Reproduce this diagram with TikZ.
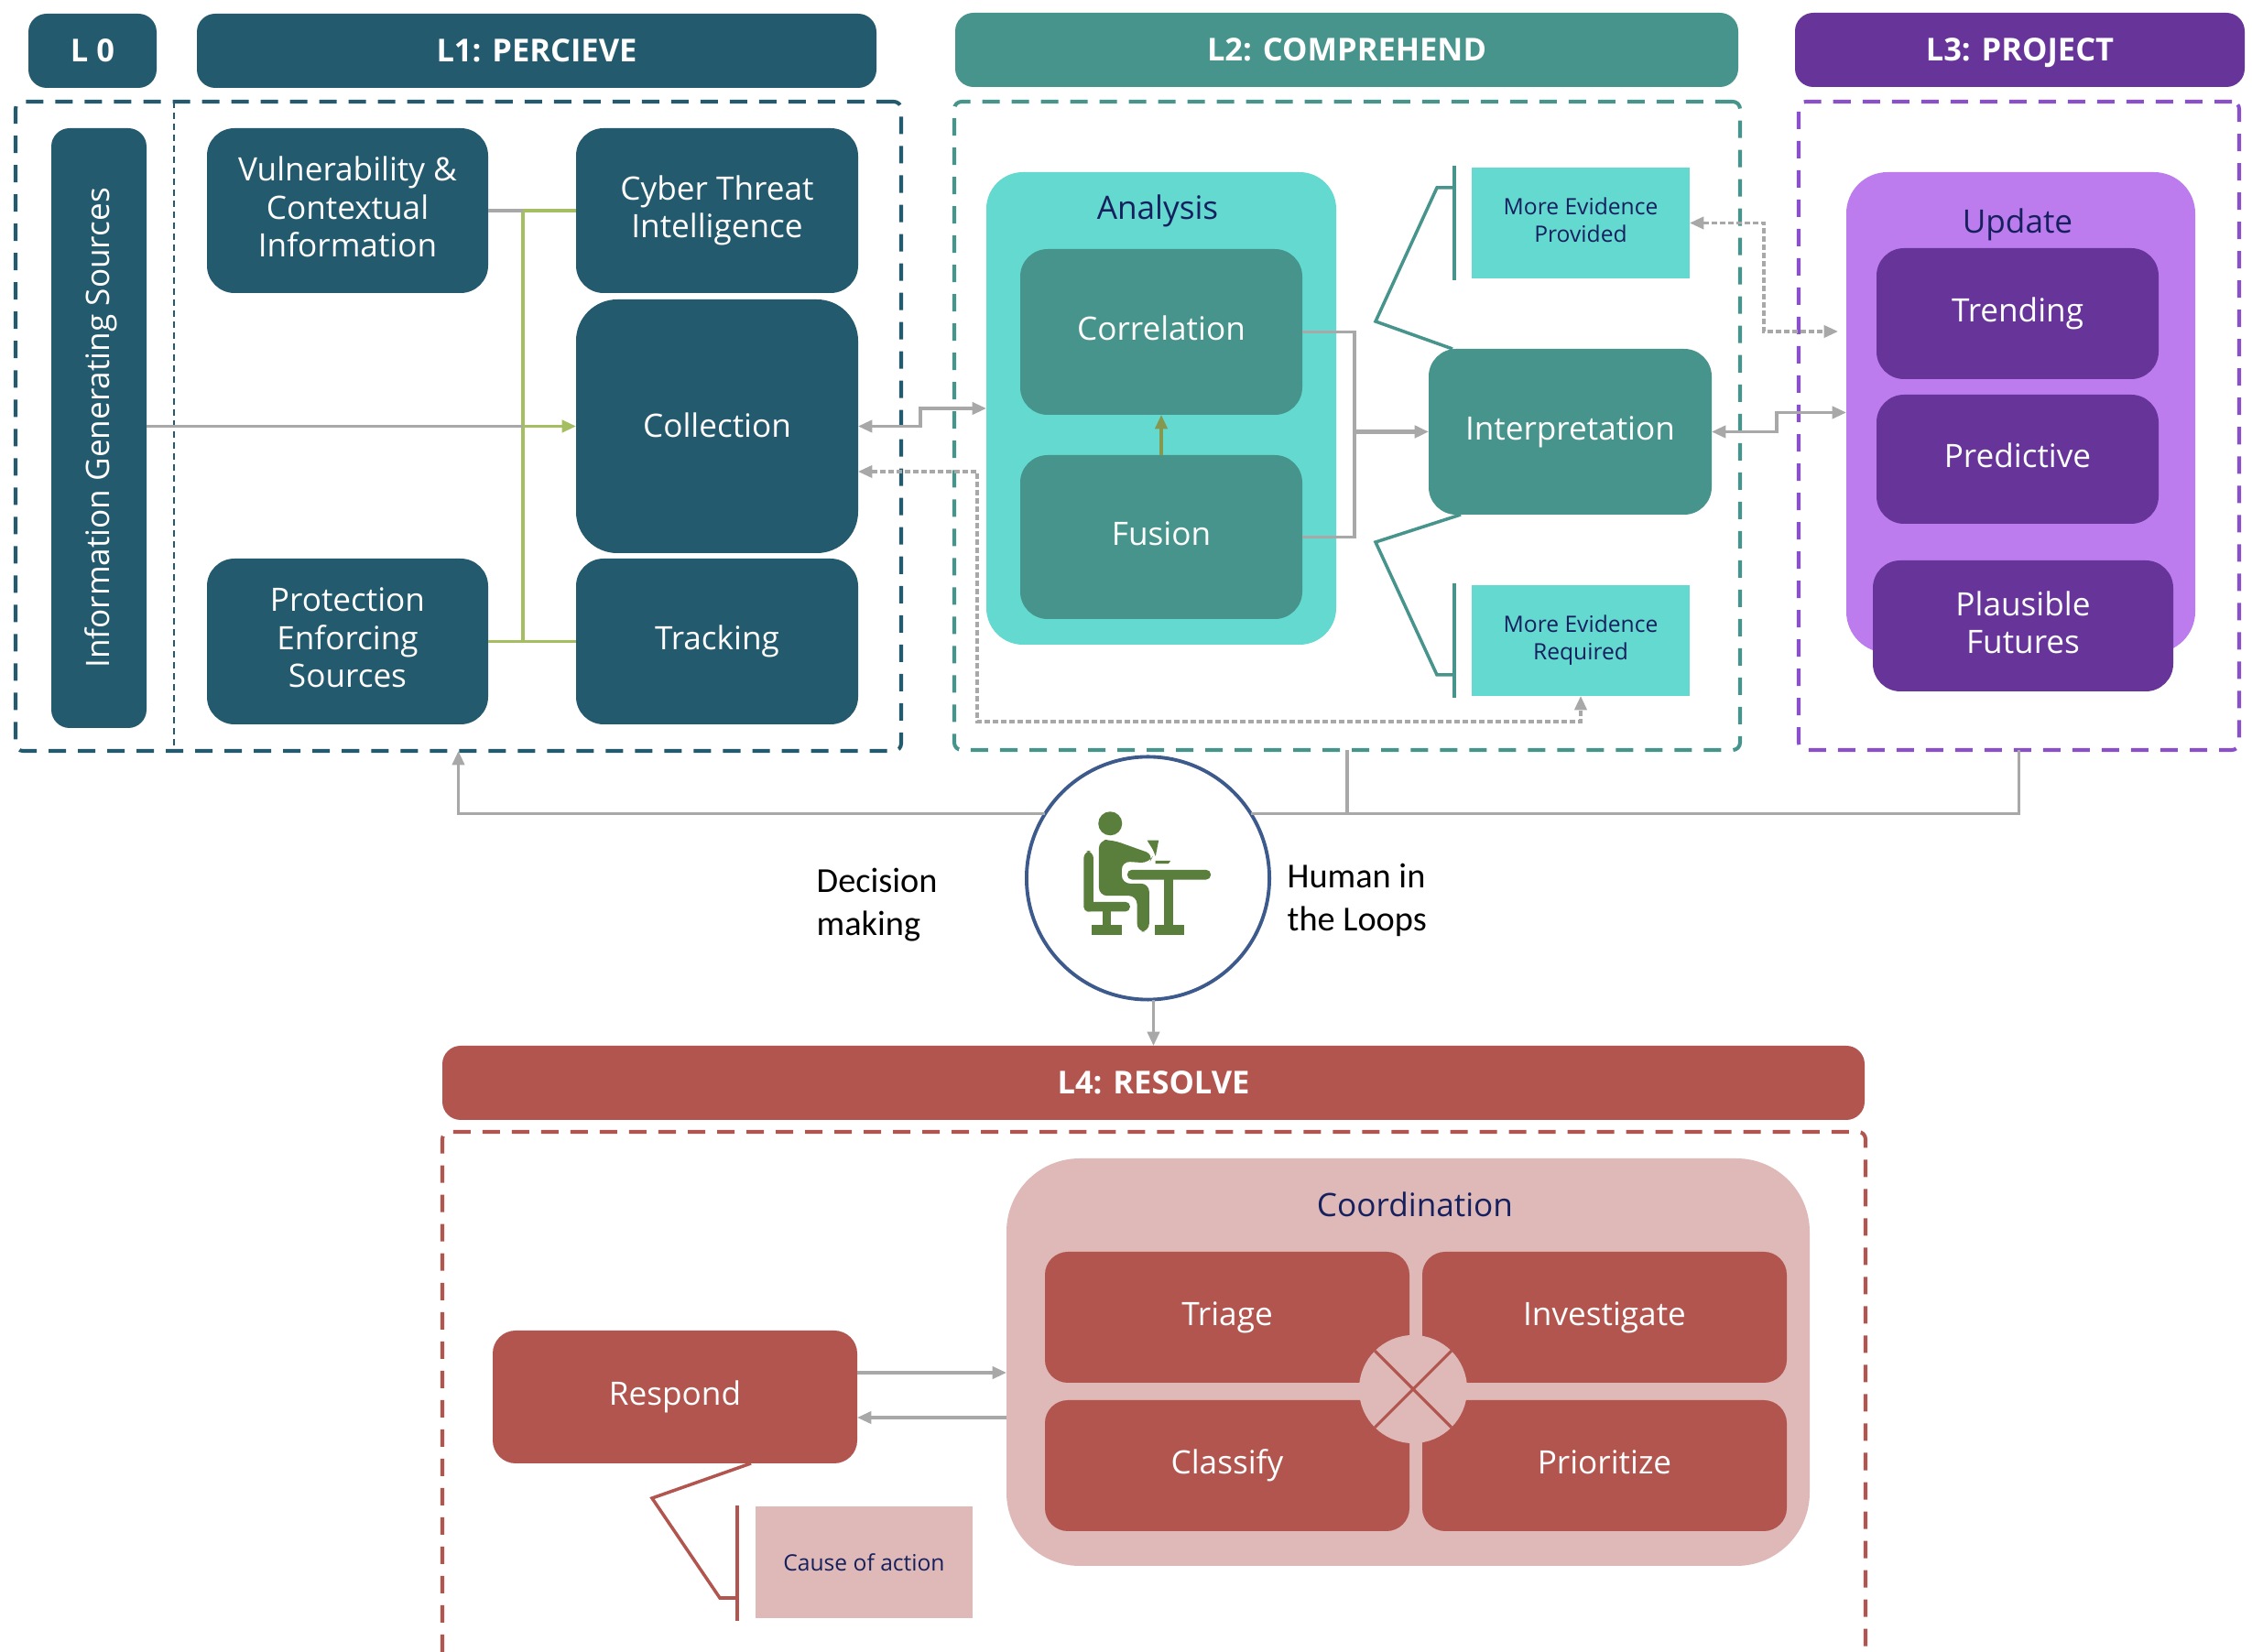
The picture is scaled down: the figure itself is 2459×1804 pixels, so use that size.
\documentclass[tikz,border=0pt]{standalone}
\usepackage{fontspec}
\setmainfont{Open Sans}
\newfontfamily\plainfont{Carlito}
\usetikzlibrary{arrows.meta}

\definecolor{percteal}{HTML}{245A6E}
\definecolor{compteal}{HTML}{46948B}
\definecolor{lightteal}{HTML}{63D9CF}
\definecolor{projpurple}{HTML}{67349A}
\definecolor{lightpurple}{HTML}{BC7CEE}
\definecolor{framepurple}{HTML}{8A4FCB}
\definecolor{resred}{HTML}{B2554F}
\definecolor{lightred}{HTML}{DEB9B7}
\definecolor{navytext}{HTML}{16205E}
\definecolor{linegrey}{HTML}{A8A8A8}
\definecolor{busgreen}{HTML}{A6BE62}
\definecolor{ringblue}{HTML}{3D5A8C}
\definecolor{deskgreen}{HTML}{5A7F3C}

\tikzset{
	boxsize/.style 2 args={minimum width=#1*0.01cm, minimum height=#2*0.01cm},
	basebox/.style={inner sep=0, outer sep=0, align=center, text=white, text depth=0.085cm, font=\fontsize{10pt}{11.7pt}\selectfont},
	perc/.style={basebox, fill=percteal, rounded corners=0.3cm},
	comp/.style={basebox, fill=compteal, rounded corners=0.3cm},
	proj/.style={basebox, fill=projpurple, rounded corners=0.3cm},
	res/.style={basebox, fill=resred, rounded corners=0.25cm},
	header/.style={basebox, text depth=0pt, rounded corners=0.2cm, font=\bfseries\fontsize{9.8pt}{12pt}\selectfont},
	frame/.style={inner sep=0, outer sep=0, rounded corners=0.08cm, line width=1.15pt, dash pattern=on 0.19cm off 0.13cm},
	note/.style={basebox, text=navytext, text depth=0.06cm, font=\fontsize{7pt}{8.6pt}\selectfont},
	grouptitle/.style={inner sep=0, text=navytext, font=\fontsize{10pt}{12pt}\selectfont},
	greylink/.style={draw=linegrey, line width=0.95pt},
	dashlink/.style={draw=linegrey, line width=0.9pt, dash pattern=on 0.06cm off 0.03cm},
	buslink/.style={draw=busgreen, line width=1pt},
	tips/.style={arrows={#1}, >={Triangle[length=4.4pt, width=3.8pt]}},
	callline/.style={line width=1pt, line join=miter},
	sidetext/.style={inner sep=0, align=left, anchor=north west, font=\plainfont\fontsize{10.9pt}{13.4pt}\selectfont},
}

\begin{document}
\begin{tikzpicture}[x=0.01cm, y=-0.01cm]
	\useasboundingbox (0,0) rectangle (2459,1804);
	
	%%%%% HEADERS %%%%%
	\node[header, fill=percteal, boxsize={140}{81}] (lzero) at (101,55.5) {L 0};
	\node[header, fill=percteal, boxsize={742}{81}] (lone) at (586,55.5) {L1: PERCIEVE};
	\node[header, fill=compteal, boxsize={855}{81}] (ltwo) at (1470.5,54.5) {L2: COMPREHEND};
	\node[header, fill=projpurple, boxsize={491}{81}] (lthree) at (2205.5,54.5) {L3: PROJECT};
	\node[header, fill=resred, boxsize={1553}{81}] (lfour) at (1259.5,1182.5) {L4: RESOLVE};
	
	%%%%% FRAMES %%%%%
	\node[frame, draw=percteal, boxsize={967}{709}] (percframe) at (500.5,465.5) {};
	\node[frame, draw=compteal, boxsize={858}{708}] (compframe) at (1471,465) {};
	\node[frame, draw=framepurple, boxsize={481}{708}] (projframe) at (2204.5,465) {};
	\draw[resred, line width=1.15pt, rounded corners=0.08cm, dash pattern=on 0.19cm off 0.13cm] (483,1804) -- (483,1236) -- (2037,1236) -- (2037,1804);
	\coordinate (divtop) at (190,111);
	\coordinate (divbot) at (190,820);
	\draw[percteal, line width=0.8pt, dash pattern=on 0.07cm off 0.05cm] (divtop) -- (divbot);
	
	%%%%% L0 AND L1 %%%%%
	\node[perc, rotate=90, text depth=0.04cm, rounded corners=0.2cm, boxsize={655}{104}] (info) at (108,467.5) {Information Generating Sources};
	\node[perc, boxsize={307}{180}] (vuln) at (379.5,230) {Vulnerability \&\\Contextual\\Information};
	\node[perc, boxsize={308}{180}] (cti) at (783,230) {Cyber Threat\\Intelligence};
	\node[perc, text depth=0.03cm, rounded corners=0.45cm, boxsize={308}{277}] (collection) at (783,465.5) {Collection};
	\node[perc, boxsize={308}{181}] (tracking) at (783,700.5) {Tracking};
	\node[perc, boxsize={307}{181}] (protection) at (379.5,700.5) {Protection\\Enforcing\\Sources};
	
	\coordinate (bustop) at (571,230);
	\coordinate (busbot) at (571,700.5);
	\coordinate (busmid) at (571,465.5);
	\draw[buslink] (bustop) -- (busbot);
	\draw[buslink] (bustop) -- (cti.west);
	\draw[buslink] (protection.east) -- (tracking.west);
	\draw[greylink] (vuln.east) -- (bustop);
	\draw[buslink, tips=->] (busmid) -- (collection.west);
	\draw[greylink] (info.south |- busmid) -- (busmid);
	
	%%%%% L2 %%%%%
	\node[basebox, fill=lightteal, rounded corners=0.4cm, boxsize={382}{516}] (analysis) at (1268,446) {};
	\node[grouptitle] (analysistitle) at (1264,230) {Analysis};
	\node[comp, boxsize={308}{181}] (correlation) at (1268,362.5) {Correlation};
	\node[comp, boxsize={308}{179}] (fusion) at (1268,586.5) {Fusion};
	\node[comp, boxsize={309}{181}] (interp) at (1714.5,471.5) {Interpretation};
	\node[note, fill=lightteal, boxsize={238}{121}] (provided) at (1726,243.5) {More Evidence\\Provided};
	\node[note, fill=lightteal, boxsize={238}{121}] (required) at (1726,699.5) {More Evidence\\Required};
	
	\draw[buslink, draw=busgreen!80!black, tips=->] (fusion.north) -- (correlation.south);
	\coordinate (fusjoin) at (1479,471.5);
	\draw[greylink] (correlation.east) -| (fusjoin);
	\draw[greylink] (fusion.east) -| (fusjoin);
	\draw[greylink, line width=1.3pt, tips=->] (fusjoin) -- (interp.west);
	
	\coordinate (provtop) at (1588,181);
	\coordinate (provbot) at (1588,306);
	\coordinate (reqtop) at (1588,637);
	\coordinate (reqbot) at (1588,762);
	\coordinate (interptop) at (1586,381);
	\coordinate (interpbot) at (1595,562);
	\draw[compteal, callline] (provtop) -- (provbot);
	\draw[compteal, callline] (reqtop) -- (reqbot);
	\draw[compteal, callline] (interptop) -- (1502,351) -- (1569,205) -- (1588,205);
	\draw[compteal, callline] (interpbot) -- (1502,592) -- (1569,737) -- (1588,737);
	
	\coordinate (colbend) at (1005,446);
	\draw[greylink, tips=<->] (collection.east) -| (colbend) -- (analysis.west);
	\coordinate (colback) at (937,515);
	\coordinate (lowbend) at (1067,788);
	\draw[dashlink, tips=<->] (colback) -| (lowbend) -| (required.south);
	
	%%%%% L3 %%%%%
	\node[basebox, fill=lightpurple, rounded corners=0.45cm, boxsize={381}{525}] (update) at (2206.5,450.5) {};
	\node[grouptitle] (updatetitle) at (2203,245) {Update};
	\node[proj, boxsize={308}{143}] (trending) at (2203,342.5) {Trending};
	\node[proj, boxsize={308}{141}] (predictive) at (2203,501.5) {Predictive};
	\node[proj, boxsize={328}{143}] (plausible) at (2209,683.5) {Plausible\\Futures};
	
	\coordinate (updbend) at (1940,450.5);
	\draw[greylink, tips=<->] (interp.east) -| (updbend) -- (update.west);
	\coordinate (provbend) at (1926,362);
	\coordinate (provend) at (2007,362);
	\draw[dashlink, tips=<->] (provided.east) -| (provbend) -- (provend);
	
	%%%%% HUMAN %%%%%
	\node[circle, draw=ringblue, fill=white, line width=1.1pt, inner sep=0, outer sep=0, minimum size=2.65cm] (human) at (1253.5,959) {};
	\draw[greylink, tips=->] (human.148) -| (percframe.south);
	\draw[greylink] (human.32) -| (projframe.south);
	\coordinate (compdrop) at (compframe.south |- human.32);
	\draw[greylink] (compdrop) -- (compframe.south);
	\draw[greylink, tips=->] (lfour.north |- human.south) -- (lfour.north);
	
	\begin{scope}[shift={(1160,870)}, x=0.00333cm, y=-0.00333cm, fill=deskgreen]
		\fill (157,88) circle (0.13cm);
		\fill[rounded corners=0.08cm] (70,178) rectangle (102,377);
		\fill[rounded corners=0.05cm] (70,345) rectangle (222,377);
		\fill (132,375) rectangle (160,425);
		\fill (97,420) rectangle (195,455);
		\fill[rounded corners=0.09cm] (120,142) -- (165,142) -- (300,190) -- (285,218) -- (195,212) -- (195,285) -- (285,285) -- (285,443) -- (245,443) -- (245,325) -- (120,325) -- cycle;
		\fill[rounded corners=0.05cm] (213,240) rectangle (487,272);
		\fill (335,270) rectangle (365,425);
		\fill (302,422) rectangle (400,455);
		\fill (278,143) -- (316,143) -- (306,195) -- (296,172) -- cycle;
		\fill (305,210) -- (355,210) -- (348,220) -- (305,220) -- cycle;
	\end{scope}
	
	\node[sidetext] (decision) at (891,947) {Decision\\making};
	\node[sidetext] (loops) at (1405,942) {Human in\\the Loops};
	
	%%%%% L4 %%%%%
	\node[basebox, fill=lightred, rounded corners=0.8cm, boxsize={877}{445}] (coord) at (1537.5,1487.5) {};
	\node[grouptitle] (coordtitle) at (1545,1315) {Coordination};
	\node[res, boxsize={398}{143}] (triage) at (1340,1438.5) {Triage};
	\node[res, boxsize={398}{143}] (investigate) at (1752,1438.5) {Investigate};
	\node[res, boxsize={398}{143}] (classify) at (1340,1600.5) {Classify};
	\node[res, boxsize={398}{143}] (prioritize) at (1752,1600.5) {Prioritize};
	\node[circle, fill=lightred, inner sep=0, outer sep=0, minimum size=1.18cm] (hub) at (1543,1517) {};
	\draw[resred, line width=0.9pt] (hub.north west) -- (hub.south east);
	\draw[resred, line width=0.9pt] (hub.north east) -- (hub.south west);
	
	\node[res, boxsize={398}{145}] (respond) at (737,1525.5) {Respond};
	\node[note, fill=lightred, text depth=0pt, boxsize={237}{122}] (cause) at (943.5,1706) {Cause of action};
	
	\coordinate (sendlevel) at (1000,1499);
	\coordinate (backlevel) at (1000,1548);
	\draw[greylink, tips=->] (respond.east |- sendlevel) -- (coord.west |- sendlevel);
	\draw[greylink, tips=->] (coord.west |- backlevel) -- (respond.east |- backlevel);
	
	\coordinate (causetop) at (805,1644);
	\coordinate (causebot) at (805,1770);
	\coordinate (respfoot) at (820,1598);
	\draw[resred, callline] (causetop) -- (causebot);
	\draw[resred, callline] (respfoot) -- (712,1636) -- (786,1745) -- (805,1745);
\end{tikzpicture}
\end{document}
